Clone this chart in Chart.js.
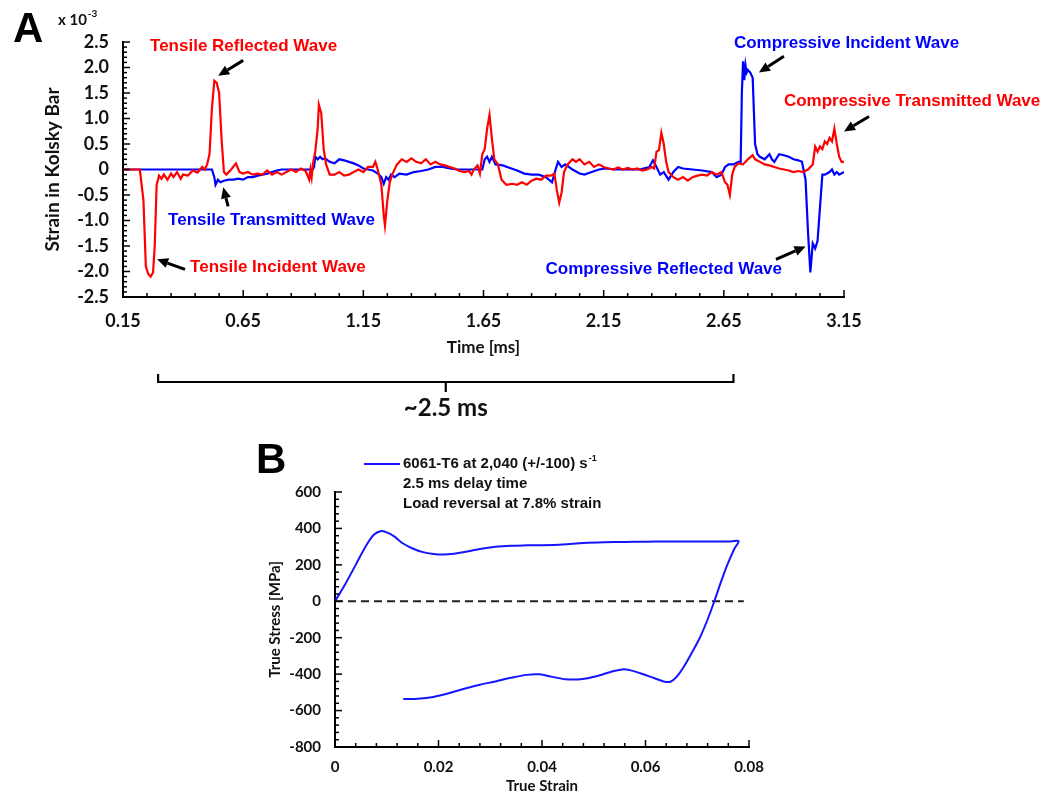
<!DOCTYPE html>
<html><head><meta charset="utf-8">
<script src="https://cdn.jsdelivr.net/npm/chart.js@4.4.1/dist/chart.umd.min.js"></script>
<style>
html,body{margin:0;padding:0;background:#fff;}
#wrap{position:relative;width:1044px;height:795px;background:#fff;}
canvas{position:absolute;left:0;top:0;width:1044px;height:795px;}
</style></head><body>
<div id="wrap"><canvas id="cA" width="1044" height="795"></canvas><canvas id="cB" width="1044" height="795"></canvas></div>
<script>
// ---------- Panel A data (time in ms, strain x 10^-3) ----------
const redTime = [
 0.15,0.22,0.235,0.245,0.255,0.265,0.275,0.282,0.29,0.30,
 0.31,0.32,0.335,0.35,0.36,0.375,0.39,0.40,0.42,0.44,
 0.46,0.48,0.49,0.50,0.51,0.52,0.53,0.54,0.55,0.56,
 0.57,0.58,0.60,0.62,0.635,0.65,0.67,0.69,0.71,0.73,
 0.75,0.77,0.79,0.81,0.83,0.85,0.87,0.89,0.91,0.925,
 0.93,0.935,0.94,0.95,0.96,0.965,0.975,0.985,0.995,1.01,
 1.03,1.05,1.07,1.09,1.11,1.13,1.15,1.17,1.19,1.20,
 1.21,1.225,1.235,1.24,1.25,1.26,1.27,1.29,1.31,1.33,
 1.35,1.37,1.39,1.41,1.43,1.45,1.47,1.49,1.51,1.53,
 1.55,1.57,1.59,1.60,1.61,1.625,1.635,1.645,1.655,1.665,
 1.675,1.685,1.695,1.71,1.725,1.745,1.77,1.79,1.81,1.83,
 1.85,1.87,1.89,1.91,1.93,1.945,1.955,1.965,1.975,1.985,
 2.0,2.02,2.035,2.05,2.07,2.09,2.11,2.13,2.15,2.17,
 2.19,2.21,2.23,2.25,2.27,2.29,2.31,2.33,2.35,2.36,
 2.37,2.38,2.39,2.40,2.41,2.42,2.44,2.46,2.48,2.50,
 2.52,2.54,2.56,2.58,2.60,2.62,2.64,2.655,2.665,2.675,
 2.685,2.695,2.71,2.73,2.75,2.77,2.78,2.80,2.82,2.84,
 2.86,2.88,2.90,2.92,2.94,2.96,2.98,3.0,3.02,3.03,
 3.04,3.05,3.06,3.07,3.08,3.09,3.10,3.11,3.12,3.13,
 3.14,3.15];
const redStrain = [
 0,0,-0.6,-1.9,-2.05,-2.1,-2.02,-1.5,-0.3,-0.12,
 -0.18,-0.1,-0.2,-0.08,-0.15,-0.05,-0.18,-0.1,-0.12,-0.02,
 -0.06,0.05,0.0,0.1,0.3,1.2,1.74,1.7,1.5,0.6,
 -0.05,-0.1,0.0,0.12,-0.05,-0.08,-0.05,-0.1,-0.08,-0.1,
 -0.02,-0.1,-0.05,-0.1,-0.05,0.0,-0.05,0.02,-0.03,-0.2,
 0.0,-0.15,0.1,0.35,0.8,1.27,1.1,0.4,0.1,-0.1,
 -0.1,-0.05,-0.12,-0.1,-0.05,0.0,-0.05,0.05,0.05,0.15,
 0.0,-0.3,-0.9,-1.1,-0.6,-0.25,-0.1,0.1,0.2,0.15,
 0.22,0.15,0.12,0.2,0.1,0.15,0.1,0.08,0.05,0.02,
 -0.03,-0.05,-0.03,-0.1,0.0,0.08,-0.08,0.3,0.4,0.8,
 1.07,0.6,0.2,0.1,-0.2,-0.3,-0.28,-0.3,-0.25,-0.3,
 -0.22,-0.18,-0.2,-0.12,-0.12,-0.08,-0.4,-0.65,-0.45,-0.05,
 0.1,0.2,0.15,0.2,0.1,0.15,0.05,0.1,0.05,0.02,
 0.0,0.04,0.0,0.03,0.0,0.02,-0.02,0.0,0.05,0.02,
 0.35,0.38,0.72,0.5,0.15,-0.05,-0.15,-0.2,-0.15,-0.22,
 -0.15,-0.12,-0.1,-0.12,-0.05,-0.1,-0.05,-0.25,-0.3,-0.5,
 -0.1,0.05,0.12,0.1,0.2,0.28,0.2,0.15,0.1,0.08,
 0.05,0.02,0.0,-0.02,-0.05,-0.03,-0.05,0.0,0.1,0.45,
 0.35,0.45,0.4,0.55,0.5,0.62,0.55,0.8,0.5,0.25,
 0.15,0.15];
const blueTime = [
 0.15,0.52,0.53,0.535,0.545,0.555,0.57,0.59,0.61,0.63,
 0.65,0.67,0.69,0.71,0.73,0.75,0.77,0.79,0.81,0.85,
 0.90,0.94,0.945,0.95,0.96,0.97,0.98,0.99,1.01,1.03,
 1.05,1.07,1.09,1.11,1.13,1.15,1.17,1.19,1.21,1.225,
 1.235,1.245,1.255,1.265,1.28,1.30,1.33,1.36,1.39,1.42,
 1.45,1.48,1.51,1.54,1.58,1.62,1.645,1.655,1.665,1.675,
 1.685,1.70,1.73,1.76,1.79,1.82,1.85,1.88,1.91,1.935,
 1.95,1.96,1.975,1.99,2.02,2.05,2.07,2.10,2.13,2.16,
 2.20,2.25,2.30,2.34,2.355,2.37,2.385,2.40,2.42,2.44,
 2.46,2.48,2.52,2.56,2.60,2.62,2.64,2.655,2.67,2.69,
 2.71,2.72,2.725,2.73,2.735,2.74,2.745,2.75,2.76,2.77,
 2.78,2.79,2.80,2.82,2.84,2.85,2.86,2.88,2.90,2.92,
 2.94,2.96,2.975,2.99,3.0,3.01,3.02,3.03,3.04,3.06,
 3.07,3.09,3.10,3.11,3.12,3.13,3.15];
const blueStrain = [
 0,0,-0.15,-0.3,-0.2,-0.25,-0.22,-0.2,-0.2,-0.18,
 -0.2,-0.15,-0.15,-0.12,-0.1,-0.08,-0.05,-0.02,0.0,0.0,
 0.0,0.0,0.05,0.25,0.2,0.25,0.2,0.22,0.15,0.12,
 0.2,0.18,0.15,0.12,0.08,0.02,0.0,-0.02,-0.08,-0.15,
 -0.28,-0.15,-0.2,-0.1,-0.15,-0.08,-0.1,-0.05,-0.03,0.0,
 0.05,0.05,0.02,0.0,0.0,0.0,0.0,0.2,0.25,0.15,
 0.25,0.1,0.08,0.03,-0.02,-0.08,-0.1,-0.1,-0.15,-0.25,
 0.0,0.15,0.05,0.1,0.0,-0.08,-0.1,-0.05,0.0,0.02,
 0.0,0.0,0.0,0.05,0.18,0.05,-0.1,-0.05,-0.2,-0.05,
 0.05,0.02,0.0,-0.02,-0.05,-0.15,-0.1,0.05,0.1,0.1,
 0.15,0.15,1.5,2.12,1.75,2.05,1.9,1.95,1.9,1.8,
 0.5,0.3,0.25,0.2,0.3,0.2,0.15,0.3,0.28,0.25,
 0.2,0.18,0.15,-0.2,-1.2,-2.02,-1.45,-1.55,-1.4,-0.1,
 -0.1,-0.05,0.0,-0.1,-0.05,-0.1,-0.05];
const timeTickLabels = ['0.15','0.65','1.15','1.65','2.15','2.65','3.15'];
const strainTickLabels = ['2.5','2.0','1.5','1.0','0.5','0','-0.5','-1.0','-1.5','-2.0','-2.5'];
const bracketStartEnd = [0.296, 2.69];

// ---------- Panel B data (true strain, true stress MPa) ----------
const loopStrain = [
 0,0.002,0.004,0.006,0.0075,0.0088,0.0100,0.0115,0.013,0.015,
 0.017,0.019,0.021,0.023,0.025,0.028,0.031,0.034,0.037,0.040,
 0.044,0.048,0.052,0.056,0.060,0.064,0.068,0.072,0.076,0.078,
 0.0772,0.0758,0.0745,0.0733,0.072,0.0705,0.069,0.0675,0.066,0.0648,
 0.0635,0.0615,0.059,0.057,0.0555,0.0535,0.0505,0.0475,0.0445,0.042,
 0.0395,0.037,0.034,0.031,0.028,0.025,0.022,0.019,0.016,0.0132];
const loopStress = [
 0,95,200,305,365,385,378,355,320,290,
 270,260,257,261,270,287,299,305,307,308,
 312,320,324,326,327,328,328,328,328,330,
 290,200,100,0,-100,-200,-280,-355,-415,-442,
 -440,-420,-395,-378,-374,-385,-412,-428,-428,-415,
 -401,-404,-420,-440,-458,-480,-505,-525,-535,-537];
const zeroLineStrain = [0, 0.079];
const zeroLineStress = [0, 0];
const strainBTickLabels = ['0','0.02','0.04','0.06','0.08'];
const stressTickLabels = ['600','400','200','0','-200','-400','-600','-800'];
const legendLines = ['6061-T6 at 2,040 (+/-100) s', '2.5 ms delay time', 'Load reversal at 7.8% strain'];

// ---------- helpers ----------
const CAL = 'Lato';
const ARI = '"Liberation Sans", Arial, sans-serif';
const INK = '#111';
function pts(xs, ys){ return xs.map((x,i)=>({x:x, y:ys[i]})); }
function buildTicks(min, max, step, labels){
  const majors = labels.map(parseFloat);
  const n = Math.round((max-min)/step);
  const out = [];
  for(let i=0;i<=n;i++){
    const v = +(min + i*step).toFixed(6);
    const k = majors.findIndex(m=>Math.abs(m-v) < step/10);
    out.push({value:v, isMajor:k>=0, txt:k>=0?labels[k]:''});
  }
  return out;
}
function axisCfg(min, max, step, labels, fontSize, pad, fixW, fixH){
  return {
    type:'linear', min:min, max:max,
    grid:{display:false, drawTicks:false},
    border:{display:true, color:'#000', width:2},
    afterBuildTicks:(s)=>{ s.ticks = buildTicks(min,max,step,labels); },
    afterFit:(s)=>{ if(fixW) s.width = fixW; if(fixH) s.height = fixH; },
    ticks:{autoSkip:false, maxRotation:0, padding:pad, color:INK,
      font:{family:CAL, size:fontSize, weight:'bold'},
      callback:(v,i,t)=> t[i].txt }
  };
}
const innerTicks = {
  id:'innerTicks',
  afterDatasetsDraw(chart, args, o){
    const {ctx, chartArea:a} = chart;
    const xs = chart.scales.x, ys = chart.scales.y;
    ctx.save(); ctx.strokeStyle='#000'; ctx.lineWidth=1.5;
    xs.ticks.forEach(t=>{ const p = xs.getPixelForValue(t.value); const L = t.isMajor?o.major:o.minor;
      ctx.beginPath(); ctx.moveTo(p, a.bottom); ctx.lineTo(p, a.bottom-L); ctx.stroke(); });
    ys.ticks.forEach(t=>{ const p = ys.getPixelForValue(t.value); const L = t.isMajor?o.major:o.minor;
      ctx.beginPath(); ctx.moveTo(a.left, p); ctx.lineTo(a.left+L, p); ctx.stroke(); });
    ctx.restore();
  }
};
function txt(ctx, s, x, y, font, color, align, base){
  ctx.font = font; ctx.fillStyle = color; ctx.textAlign = align||'left'; ctx.textBaseline = base||'middle';
  ctx.fillText(s, x, y);
}
function arrow(ctx, x1,y1,x2,y2){
  const head=11, half=5, ang=Math.atan2(y2-y1, x2-x1);
  const bx = x2-head*Math.cos(ang), by = y2-head*Math.sin(ang);
  ctx.save(); ctx.strokeStyle='#000'; ctx.fillStyle='#000'; ctx.lineWidth=3; ctx.lineCap='butt';
  ctx.beginPath(); ctx.moveTo(x1,y1); ctx.lineTo(bx,by); ctx.stroke();
  ctx.beginPath(); ctx.moveTo(x2,y2);
  ctx.lineTo(bx+half*Math.sin(ang), by-half*Math.cos(ang));
  ctx.lineTo(bx-half*Math.sin(ang), by+half*Math.cos(ang));
  ctx.closePath(); ctx.fill(); ctx.restore();
}

// annotations for panel A, anchored in data coordinates
const waveLabels = [
  {text:'Tensile Reflected Wave', t:0.2625, v:2.41, color:'#ff0000'},
  {text:'Compressive Incident Wave', t:2.692, v:2.47, color:'#0000ff'},
  {text:'Compressive Transmitted Wave', t:2.90, v:1.33, color:'#ff0000'},
  {text:'Tensile Transmitted Wave', t:0.3375, v:-1.0, color:'#0000ff'},
  {text:'Tensile Incident Wave', t:0.429, v:-1.92, color:'#ff0000'},
  {text:'Compressive Reflected Wave', t:1.908, v:-1.96, color:'#0000ff'}
];
const waveArrows = [
  {from:[0.65,2.14], to:[0.546,1.84]},
  {from:[0.5875,-0.725], to:[0.567,-0.35]},
  {from:[0.408,-1.96], to:[0.292,-1.76]},
  {from:[2.90,2.22], to:[2.796,1.90]},
  {from:[3.254,1.04], to:[3.15,0.745]},
  {from:[2.867,-1.76], to:[2.99,-1.51]}
];

const decorA = {
  id:'decorA',
  afterDraw(chart){
    const {ctx, chartArea:a} = chart; const xs = chart.scales.x, ys = chart.scales.y;
    ctx.save();
    waveLabels.forEach(l=> txt(ctx, l.text, xs.getPixelForValue(l.t), ys.getPixelForValue(l.v), 'bold 17px '+ARI, l.color, 'left','middle'));
    waveArrows.forEach(w=> arrow(ctx, xs.getPixelForValue(w.from[0]), ys.getPixelForValue(w.from[1]), xs.getPixelForValue(w.to[0]), ys.getPixelForValue(w.to[1])));
    // axis titles
    ctx.save(); ctx.translate(a.left-70, (a.top+a.bottom)/2); ctx.rotate(-Math.PI/2);
    txt(ctx, 'Strain in Kolsky Bar', 0, 0, 'bold 19px '+CAL, INK, 'center','middle'); ctx.restore();
    txt(ctx, 'Time [ms]', (a.left+a.right)/2, a.bottom+51, 'bold 17px '+CAL, INK, 'center','middle');
    txt(ctx, 'x 10', a.left-65, a.top-22, 'bold 15px '+CAL, INK, 'left','middle');
    const w10 = ctx.measureText('x 10').width;
    txt(ctx, '-3', a.left-65+w10+1, a.top-28, 'bold 10px '+CAL, INK, 'left','middle');
    txt(ctx, 'A', a.left-110, a.top, 'bold 42px '+ARI, '#000', 'left','alphabetic');
    // bracket
    const b0 = xs.getPixelForValue(bracketStartEnd[0]), b1 = xs.getPixelForValue(bracketStartEnd[1]);
    const by = a.bottom+85, bm = (b0+b1)/2;
    ctx.strokeStyle='#000'; ctx.lineWidth=2.2;
    ctx.beginPath(); ctx.moveTo(b0, by-8); ctx.lineTo(b0, by); ctx.lineTo(b1, by); ctx.lineTo(b1, by-8); ctx.stroke();
    ctx.beginPath(); ctx.moveTo(bm, by); ctx.lineTo(bm, by+10); ctx.stroke();
    txt(ctx, '~2.5 ms', bm, by+26, 'bold 24px '+CAL, INK, 'center','middle');
    ctx.restore();
  }
};
const decorB = {
  id:'decorB',
  afterDraw(chart){
    const {ctx, chartArea:a} = chart;
    ctx.save();
    ctx.save(); ctx.translate(a.left-60, (a.top+a.bottom)/2); ctx.rotate(-Math.PI/2);
    txt(ctx, 'True Stress [MPa]', 0, 0, 'bold 15px '+CAL, INK, 'center','middle'); ctx.restore();
    txt(ctx, 'True Strain', (a.left+a.right)/2, a.bottom+39, 'bold 15px '+CAL, INK, 'center','middle');
    txt(ctx, 'B', a.left-79, a.top-19, 'bold 42px '+ARI, '#000', 'left','alphabetic');
    // legend
    const lx = a.left+29, ly = a.top-28;
    ctx.strokeStyle = '#1515ff'; ctx.lineWidth = 2;
    ctx.beginPath(); ctx.moveTo(lx, ly); ctx.lineTo(lx+36, ly); ctx.stroke();
    const tx = lx+39;
    legendLines.forEach((s,i)=> txt(ctx, s, tx, ly+i*20, 'bold 15px '+ARI, INK, 'left','middle'));
    ctx.font = 'bold 15px '+ARI; const w = ctx.measureText(legendLines[0]).width;
    txt(ctx, '-1', tx+w+1, ly-5, 'bold 9px '+ARI, INK, 'left','middle');
    ctx.restore();
  }
};

function make(){
  const W = 1044, H = 795;
  // Panel A: plot area 123..844 x 42..297
  new Chart(document.getElementById('cA'), {
    type:'scatter',
    data:{datasets:[
      {data:pts(redTime, redStrain), showLine:true, borderColor:'#ff0000', borderWidth:2.2, pointRadius:0, tension:0},
      {data:pts(blueTime, blueStrain), showLine:true, borderColor:'#0000ff', borderWidth:2.2, pointRadius:0, tension:0}
    ]},
    options:{
      responsive:false, animation:false, devicePixelRatio:1,
      layout:{padding:{left:123-60, right:W-844, top:42, bottom:H-297-40}},
      plugins:{legend:{display:false}, tooltip:{enabled:false}, innerTicks:{major:7, minor:4}},
      scales:{
        x: axisCfg(0.15, 3.15, 0.1, timeTickLabels, 18, 13, null, 40),
        y: axisCfg(-2.5, 2.5, 0.1, strainTickLabels, 18, 14, 60, null)
      }
    },
    plugins:[innerTicks, decorA]
  });
  // Panel B: plot area 335..749 x 492..747
  new Chart(document.getElementById('cB'), {
    type:'scatter',
    data:{datasets:[
      {data:pts(loopStrain, loopStress), showLine:true, borderColor:'#1515ff', borderWidth:2, pointRadius:0, tension:0.3},
      {data:pts(zeroLineStrain, zeroLineStress), showLine:true, borderColor:'#222', borderWidth:2, borderDash:[8,5], pointRadius:0}
    ]},
    options:{
      responsive:false, animation:false, devicePixelRatio:1,
      layout:{padding:{left:335-60, right:W-749, top:492, bottom:H-747-40}},
      plugins:{legend:{display:false}, tooltip:{enabled:false}, innerTicks:{major:7, minor:4}},
      scales:{
        x: axisCfg(0, 0.08, 0.004, strainBTickLabels, 15, 11, null, 40),
        y: axisCfg(-800, 600, 40, stressTickLabels, 15, 14, 60, null)
      }
    },
    plugins:[innerTicks, decorB]
  });
}
Promise.all([
  document.fonts.load('bold 16px Lato'),
  document.fonts.load('bold 16px "Liberation Sans"')
]).then(make, make);
</script>
</body></html>
